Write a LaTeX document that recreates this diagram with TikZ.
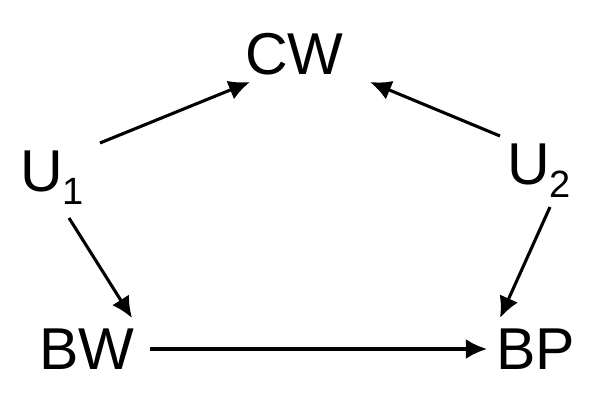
\documentclass[tikz,border=0pt]{standalone}
\usepackage{fontspec}
\setmainfont{Liberation Sans}
\usetikzlibrary{arrows.meta}
\newcommand{\idx}[1]{\raisebox{-9pt}{\fontsize{27}{30}\selectfont #1}}

\begin{document}
\begin{tikzpicture}[x=0.025cm,y=-0.025cm,>={Latex[length=0.53cm,width=0.5cm]},font=\fontsize{42}{50}\selectfont]
\tikzstyle{var}=[inner sep=0pt,outer sep=0pt,anchor=base west]
\tikzstyle{link}=[->,line width=2.2pt]
\useasboundingbox (0,0) rectangle (600,412);
\node[var] (cw) at (245,75) {CW};
\node[var] (u1) at (20,192) {U\idx{1}};
\node[var] (u2) at (507,185) {U\idx{2}};
\node[var] (bw) at (39,370) {BW};
\node[var] (bp) at (496,370) {BP};
\draw[link] ([shift={(80,-49)}]u1.base west) -- ([shift={(5,7)}]cw.base west);
\draw[link] ([shift={(-7,-49)}]u2.base west) -- ([shift={(125,7)}]cw.base west);
\draw[link] ([shift={(49,26)}]u1.base west) -- ([shift={(93,-52)}]bw.base west);
\draw[link] ([shift={(43,22)}]u2.base west) -- ([shift={(4,-52)}]bp.base west);
\draw[link] ([shift={(111,-21)}]bw.base west) -- ([shift={(-9,-21)}]bp.base west);
\end{tikzpicture}
\end{document}
